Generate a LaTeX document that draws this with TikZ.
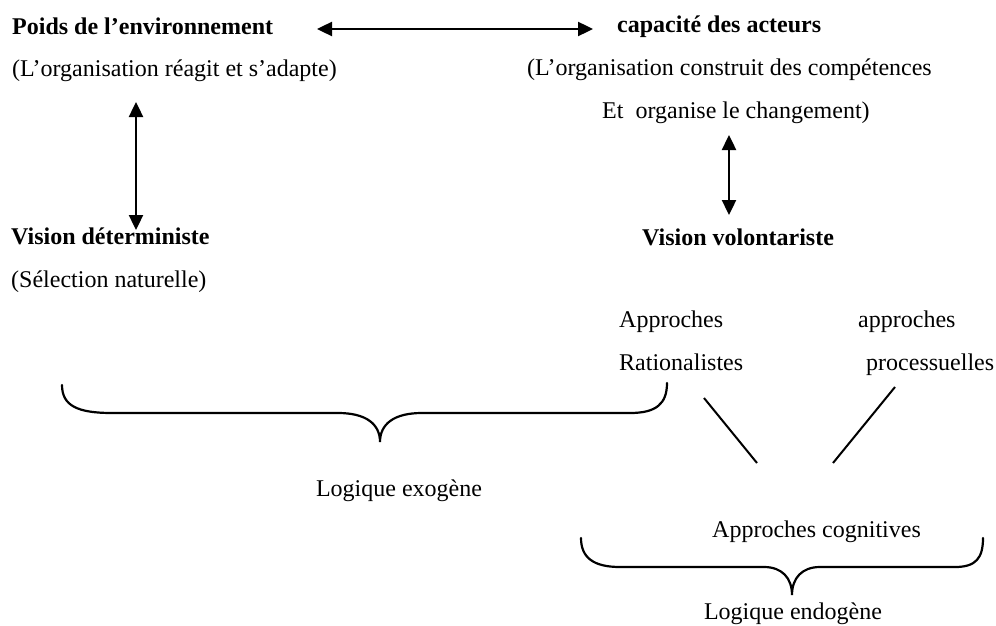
\documentclass[tikz,border=0pt]{standalone}
\usepackage{fontspec}
\setmainfont{Liberation Serif}
\usetikzlibrary{arrows.meta}
\begin{document}
\begin{tikzpicture}[x=1pt,y=-1pt,
  txt/.style={inner sep=0pt, anchor=base west, font=\fontsize{24}{29}\selectfont},
  btxt/.style={inner sep=0pt, anchor=base west, font=\fontsize{24}{29}\selectfont\bfseries},
  ctxt/.style={inner sep=0pt, anchor=base, font=\fontsize{24}{29}\selectfont},
  dblarrow/.style={line width=2.4pt, {Triangle[length=15pt,width=14pt]}-{Triangle[length=15pt,width=14pt]}},
  bracestyle/.style={line width=2.2pt, line cap=round},
  ln/.style={line width=2pt}]
\useasboundingbox (0,0) rectangle (996,626);

% texts
\node[btxt] (poids) at (12,35) {Poids de l’environnement};
\node[txt] (reagit) at (12,77) {(L’organisation réagit et s’adapte)};
\node[btxt] (capacite) at (617,33) {capacité des acteurs};
\node[txt] (construit) at (527,75) {(L’organisation construit des compétences};
\node[txt] (organise) at (602,118) {Et~ organise le changement)};
\node[btxt] (determ) at (11,244) {Vision déterministe};
\node[btxt] (volont) at (642,245) {Vision volontariste};
\node[txt] (selection) at (11,287) {(Sélection naturelle)};
\node[txt] (appr1) at (619,327) {Approches};
\node[txt] (appr2) at (858,327) {approches};
\node[txt] (rat) at (619,370) {Rationalistes};
\node[txt] (proc) at (866,370) {processuelles};
\node[ctxt] (exo) at (399,496) {Logique exogène};
\node[txt] (cogn) at (712,537) {Approches cognitives};
\node[ctxt] (endo) at (793,619) {Logique endogène};

% arrow ends
\coordinate (ha1) at (317,29);
\coordinate (ha2) at (593,29);
\coordinate (la1) at (136,102);
\coordinate (la2) at (136,230);
\coordinate (ra1) at (729,135);
\coordinate (ra2) at (729,215);
\draw[dblarrow] (ha1) -- (ha2);
\draw[dblarrow] (la1) -- (la2);
\draw[dblarrow] (ra1) -- (ra2);

% diagonal lines
\coordinate (d1a) at (704,398);
\coordinate (d1b) at (757,463);
\coordinate (d2a) at (895,387);
\coordinate (d2b) at (833,463);
\draw[ln] (d1a) -- (d1b);
\draw[ln] (d2a) -- (d2b);

% braces
\draw[bracestyle] (62,385) .. controls (62,406) and (78,413) .. (112,413)
  -- (338,413) .. controls (366,413) and (380,424) .. (380,442)
  .. controls (380,424) and (394,413) .. (422,413)
  -- (630,413) .. controls (656,413) and (667,404) .. (667,383);
\draw[bracestyle] (581,538) .. controls (581,558) and (594,567) .. (620,567)
  -- (764,567) .. controls (782,567) and (792,578) .. (792,595)
  .. controls (792,578) and (802,567) .. (820,567)
  -- (955,567) .. controls (976,567) and (983,558) .. (983,538);
\end{tikzpicture}
\end{document}
